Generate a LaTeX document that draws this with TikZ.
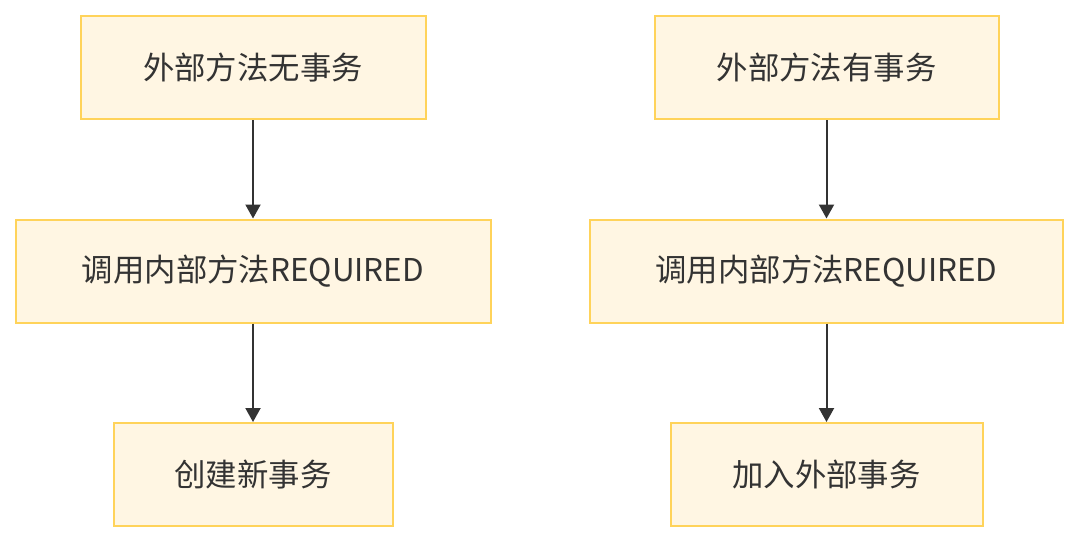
\documentclass[tikz,border=0pt]{standalone}
\usepackage{fontspec}
\setmainfont{Noto Sans CJK SC}
\usepackage{xcolor}
\usepackage{tikz}
\usetikzlibrary{arrows.meta,positioning}
\definecolor{boite}{RGB}{255,246,227}
\definecolor{bord}{RGB}{255,211,90}
\definecolor{encre}{RGB}{51,51,51}

\tikzset{
  etape/.style={draw=bord,fill=boite,line width=1pt,text=encre,
    minimum height=51.5pt,inner sep=0pt,font=\fontsize{15.7}{18}\selectfont},
  fleche/.style={encre,line width=1pt,-{Triangle[length=7pt,width=7.5pt]}}
}

\begin{document}
\begin{tikzpicture}[x=0.5pt,y=-0.5pt,node distance=49.25pt]
      \useasboundingbox (0,0) rectangle (1080,543);
      % sans transaction
      \node[etape,minimum width=172.5pt](sansext) at (253,67.5){外部方法无事务};
      \node[etape,minimum width=237.5pt,below=of sansext](sansint){调用内部方法REQUIRED};
      \node[etape,minimum width=139.5pt,below=of sansint](sansnew){创建新事务};
      % avec transaction
      \node[etape,minimum width=172pt](avecext) at (826.5,67.5){外部方法有事务};
      \node[etape,minimum width=236.5pt,below=of avecext](avecint){调用内部方法REQUIRED};
      \node[etape,minimum width=156pt,below=of avecint](avecjoin){加入外部事务};
      \draw[fleche](sansext)--(sansint);
      \draw[fleche](sansint)--(sansnew);
      \draw[fleche](avecext)--(avecint);
      \draw[fleche](avecint)--(avecjoin);
    \end{tikzpicture}
\end{document}
